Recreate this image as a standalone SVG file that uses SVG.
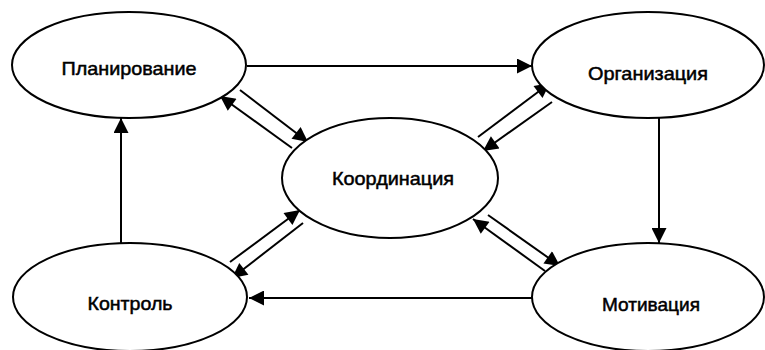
<svg xmlns="http://www.w3.org/2000/svg" width="765" height="350" viewBox="0 0 765 350">
<style>
.n ellipse{fill:#fff;stroke:#000;stroke-width:2}
.n text{font-family:"Liberation Sans",Arial,sans-serif;font-size:19px;fill:#000;stroke:#000;stroke-width:0.5;text-anchor:middle}
#edges line{stroke:#000;stroke-width:2;marker-end:url(#ah)}
</style>
<defs>
<marker id="ah" viewBox="0 0 10 10" refX="10" refY="5" markerWidth="9.5" markerHeight="7.5" markerUnits="strokeWidth" orient="auto">
<path d="M0,0 L10,5 L0,10 Z" fill="#000"/>
</marker>
</defs>
<rect width="765" height="350" fill="#fff"/>
<g id="edges">
<line x1="247" y1="66" x2="532" y2="66"/>
<line x1="659" y1="118" x2="659" y2="243"/>
<line x1="533" y1="298" x2="249" y2="298"/>
<line x1="121" y1="243" x2="121" y2="118"/>
<line x1="240" y1="90" x2="308" y2="142"/>
<line x1="292" y1="148" x2="220" y2="96"/>
<line x1="478" y1="137" x2="550" y2="83"/>
<line x1="552" y1="102" x2="483" y2="151"/>
<line x1="230" y1="262" x2="300" y2="210"/>
<line x1="303" y1="223" x2="232" y2="278"/>
<line x1="545" y1="271" x2="473" y2="219"/>
<line x1="488" y1="215" x2="560" y2="266"/>
</g>
<g id="planirovanie" class="n"><ellipse cx="129" cy="65" rx="117" ry="53"/><text x="129" y="75" textLength="135" lengthAdjust="spacingAndGlyphs">Планирование</text></g>
<g id="organizatsiya" class="n"><ellipse cx="648" cy="65" rx="116" ry="53"/><text x="648" y="80" textLength="120" lengthAdjust="spacingAndGlyphs">Организация</text></g>
<g id="koordinatsiya" class="n"><ellipse cx="390" cy="178" rx="108" ry="60"/><text x="393" y="185" textLength="122" lengthAdjust="spacingAndGlyphs">Координация</text></g>
<g id="kontrol" class="n"><ellipse cx="130" cy="297" rx="117" ry="54"/><text x="130" y="310" textLength="85" lengthAdjust="spacingAndGlyphs">Контроль</text></g>
<g id="motivatsiya" class="n"><ellipse cx="648" cy="297" rx="116" ry="54"/><text x="651" y="311" textLength="98" lengthAdjust="spacingAndGlyphs">Мотивация</text></g>
</svg>
